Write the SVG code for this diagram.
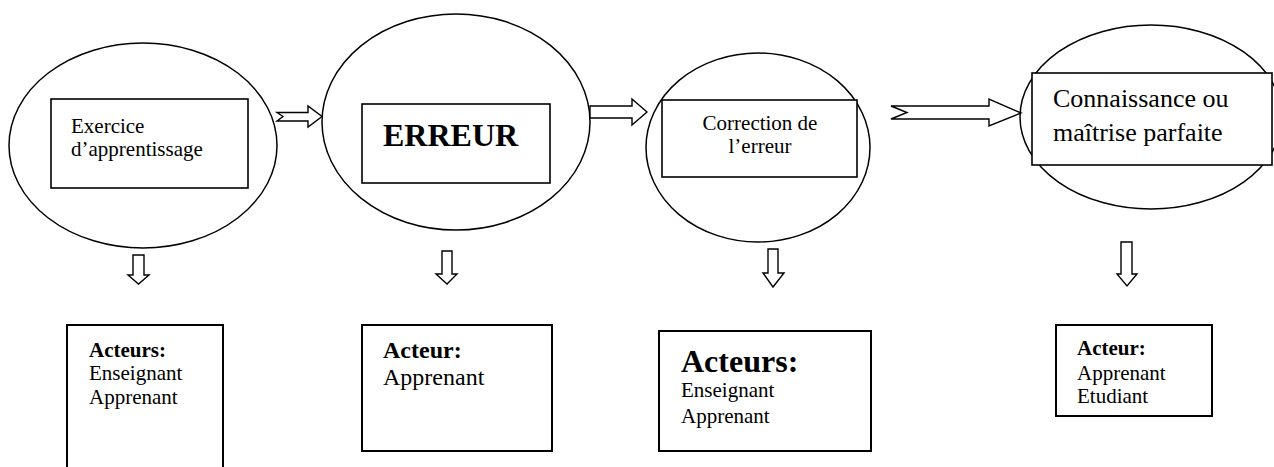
<svg xmlns="http://www.w3.org/2000/svg" width="1274" height="467" viewBox="0 0 1274 467">
<style>
.bg{fill:#ffffff}
.ell{fill:#ffffff;stroke:#000;stroke-width:1.5}
.box{fill:#ffffff;stroke:#000;stroke-width:1.6}
.abox{fill:#ffffff;stroke:#000;stroke-width:2}
.arr{fill:#ffffff;stroke:#000;stroke-width:1.4;stroke-linejoin:miter}
.t{font-family:"Liberation Serif","Times New Roman",serif;fill:#000}
.b{font-weight:bold}
</style>
<rect class="bg" x="0" y="0" width="1274" height="467"/>
<g id="node-exercice">
<ellipse class="ell" cx="143" cy="145.5" rx="134" ry="102.5"/>
<rect class="box" x="51" y="99" width="197" height="89"/>
<text class="t" x="71" y="133" font-size="21">Exercice</text>
<text class="t" x="71" y="156" font-size="21">d’apprentissage</text>
</g>
<g id="node-erreur">
<ellipse class="ell" cx="456" cy="122" rx="134" ry="108"/>
<rect class="box" x="362" y="104" width="188" height="79"/>
<text class="t b" x="383" y="146" font-size="32">ERREUR</text>
</g>
<g id="node-correction">
<ellipse class="ell" cx="758" cy="147.5" rx="112" ry="94.5"/>
<rect class="box" x="662" y="100" width="195" height="77"/>
<text class="t" x="760" y="130" font-size="21" text-anchor="middle">Correction de</text>
<text class="t" x="760" y="153" font-size="21" text-anchor="middle">l’erreur</text>
</g>
<g id="node-connaissance">
<ellipse class="ell" cx="1151" cy="117" rx="131" ry="92"/>
<rect class="box" x="1032" y="73" width="240" height="92"/>
<text class="t" x="1053" y="107" font-size="26">Connaissance ou</text>
<text class="t" x="1053" y="141" font-size="26">maîtrise parfaite</text>
</g>
<g id="actors-1">
<path class="abox" d="M67,470 V325 H223 V470"/>
<text class="t b" x="89" y="357" font-size="21">Acteurs:</text>
<text class="t" x="89" y="380" font-size="21">Enseignant</text>
<text class="t" x="89" y="404" font-size="21">Apprenant</text>
</g>
<g id="actors-2">
<rect class="abox" x="362" y="325" width="190" height="126"/>
<text class="t b" x="383" y="358" font-size="24">Acteur:</text>
<text class="t" x="383" y="385" font-size="24">Apprenant</text>
</g>
<g id="actors-3">
<rect class="abox" x="659" y="331" width="212" height="120"/>
<text class="t b" x="681" y="372" font-size="32">Acteurs:</text>
<text class="t" x="681" y="397" font-size="21">Enseignant</text>
<text class="t" x="681" y="423" font-size="21">Apprenant</text>
</g>
<g id="actors-4">
<rect class="abox" x="1056" y="325" width="156" height="91"/>
<text class="t b" x="1077" y="355" font-size="21">Acteur:</text>
<text class="t" x="1077" y="380" font-size="21">Apprenant</text>
<text class="t" x="1077" y="403" font-size="21">Etudiant</text>
</g>
<g id="connectors">
<polygon class="arr" points="277,112.5 308,112.5 308,106 322,116.5 308,127 308,121 277,121 283,116.5"/>
<polygon class="arr" points="590,106 632,106 632,99 647,112 632,125 632,118 590,118"/>
<polygon class="arr" points="891,106 989,106 989,99 1021,113 989,126 989,119 891,119 907,112.5"/>
<polygon class="arr" points="133,255 144,255 144,275 149,275 138.5,284 128,275 133,275"/>
<polygon class="arr" points="442,251 452,251 452,274 457,274 447,284 436,274 442,274"/>
<polygon class="arr" points="768,249 778,249 778,273 784,273 773,287 763,273 768,273"/>
<polygon class="arr" points="1121,242 1132,242 1132,274 1137,274 1127,286 1117,274 1121,274"/>
</g>
</svg>
